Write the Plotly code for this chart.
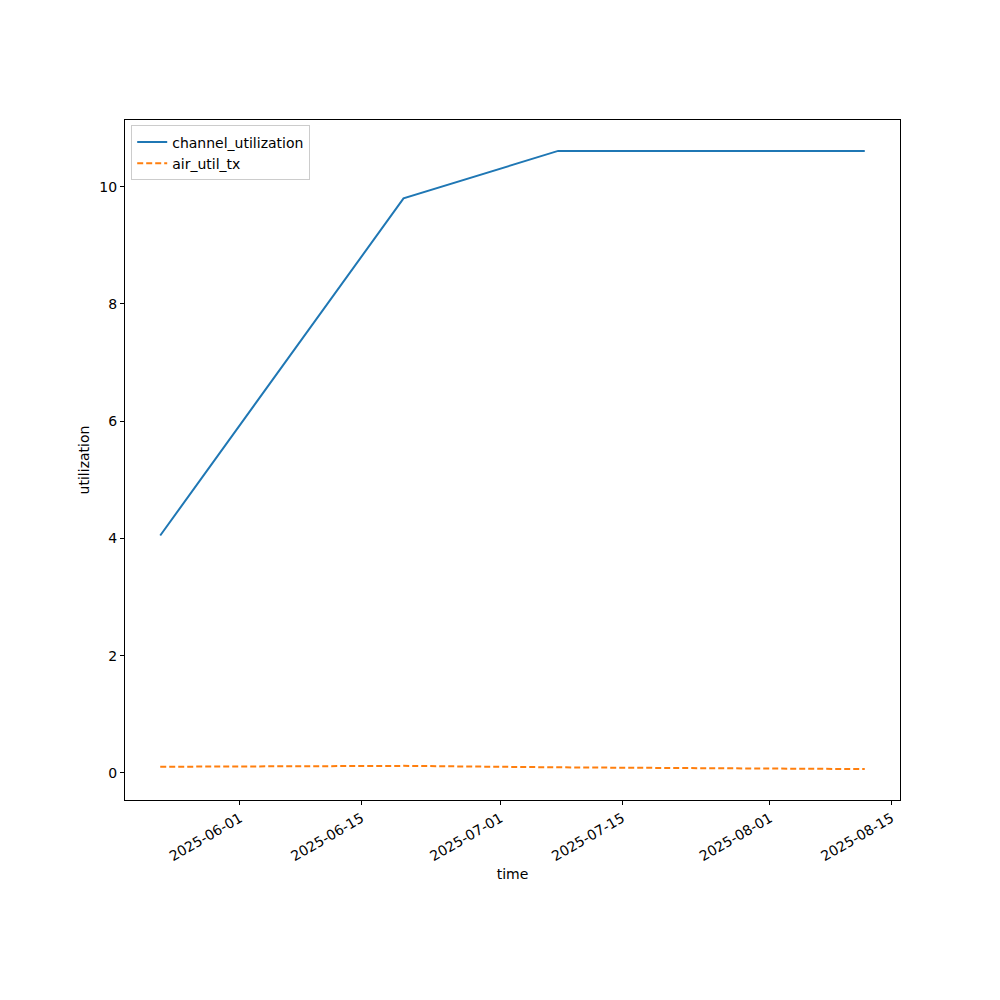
import plotly.graph_objects as go
import pandas as pd

times = ["2025-05-22 20:00", "2025-06-19 20:00", "2025-07-07 15:00", "2025-08-11 22:00"]
channel_utilization = [4.05, 9.80, 10.61, 10.61]
air_util_tx = [0.105, 0.12, 0.095, 0.065]

tick_vals = ["2025-06-01", "2025-06-15", "2025-07-01", "2025-07-15", "2025-08-01", "2025-08-15"]
y_ticks = [0, 2, 4, 6, 8, 10]

t = pd.to_datetime(times)
span = t.max() - t.min()
xr = [t.min() - span * 0.05, t.max() + span * 0.05]
allv = channel_utilization + air_util_tx
vs = max(allv) - min(allv)
yr = [min(allv) - vs * 0.05, max(allv) + vs * 0.05]

fig = go.Figure()
fig.add_trace(go.Scatter(x=t, y=channel_utilization, mode="lines", name="channel_utilization",
                         line=dict(color="#1f77b4", width=2)))
fig.add_trace(go.Scatter(x=t, y=air_util_tx, mode="lines", name="air_util_tx",
                         line=dict(color="#ff7f0e", width=2, dash="6px,3px")))

font = dict(family="DejaVu Sans", size=14, color="black")
fig.update_layout(
    width=1000, height=1000,
    margin=dict(l=117, r=108, t=112, b=208),
    paper_bgcolor="white", plot_bgcolor="white",
    font=font,
    showlegend=True,
    legend=dict(x=0.008, y=0.992, xanchor="left", yanchor="top",
                bordercolor="#cccccc", borderwidth=1, bgcolor="rgba(255,255,255,0.8)",
                font=font, tracegroupgap=0),
)
fig.update_xaxes(
    range=xr, type="date",
    tickvals=pd.to_datetime(tick_vals), ticktext=tick_vals,
    tickangle=-30, ticks="outside", ticklen=4, tickcolor="black",
    showline=True, linecolor="black", linewidth=1, mirror=True,
    showgrid=False, zeroline=False,
    title=dict(text="time", font=font, standoff=6),
)
fig.update_yaxes(
    range=yr, tickvals=y_ticks,
    ticks="outside", ticklen=4, tickcolor="black",
    showline=True, linecolor="black", linewidth=1, mirror=True,
    showgrid=False, zeroline=False,
    title=dict(text="utilization", font=font, standoff=6),
)
fig.write_html("out.html")
